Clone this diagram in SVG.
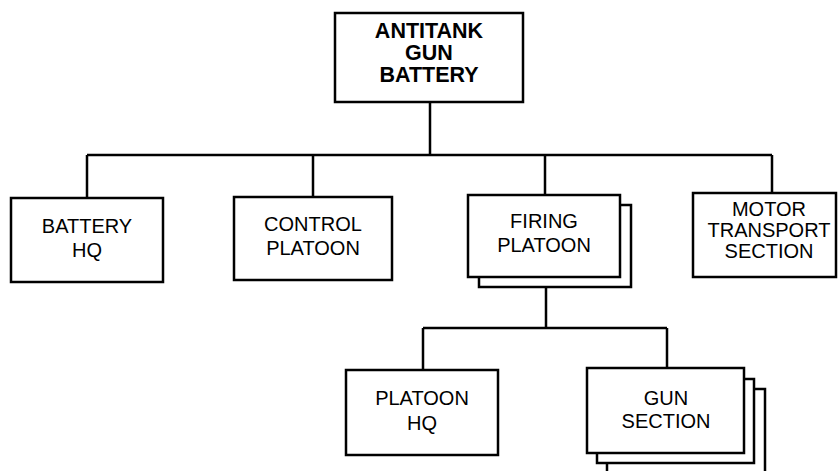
<svg xmlns="http://www.w3.org/2000/svg" width="838" height="471" viewBox="0 0 838 471">
<style>
.box{fill:#fff;stroke:#000;stroke-width:2.5}
.ln{fill:none;stroke:#000;stroke-width:2.5}
text{font-family:"Liberation Sans",Arial,sans-serif;font-size:20px;fill:#000;text-anchor:middle}
.b{font-weight:bold;font-size:21.5px}
</style>
<rect width="838" height="471" fill="#fff"/>
<g id="connectors">
<path class="ln" d="M430,102 V155 M87,155 H772 M87,155 V198 M313,155 V197 M545,155 V195 M772,155 V193"/>
<path class="ln" d="M546,287 V328 M423,328 H667 M423,328 V370 M667,328 V368"/>
</g>
<g id="antitank">
<rect class="box" x="335" y="13" width="188" height="89"/>
<text class="b" x="429" y="38">ANTITANK</text>
<text class="b" x="429" y="60">GUN</text>
<text class="b" x="429" y="82">BATTERY</text>
</g>
<g id="battery-hq">
<rect class="box" x="11" y="198" width="152" height="84"/>
<text x="87" y="233">BATTERY</text>
<text x="87" y="257">HQ</text>
</g>
<g id="control-platoon">
<rect class="box" x="234" y="197" width="158" height="83"/>
<text x="313" y="231">CONTROL</text>
<text x="313" y="255">PLATOON</text>
</g>
<g id="firing-platoon">
<rect class="box" x="479" y="205" width="152" height="82"/>
<rect class="box" x="468" y="195" width="152" height="82"/>
<text x="544" y="228">FIRING</text>
<text x="544" y="252">PLATOON</text>
</g>
<g id="motor-transport">
<rect class="box" x="693" y="193" width="143" height="84"/>
<text x="769" y="216">MOTOR</text>
<text x="769" y="237">TRANSPORT</text>
<text x="769" y="258">SECTION</text>
</g>
<g id="platoon-hq">
<rect class="box" x="346" y="370" width="152" height="85"/>
<text x="422" y="405">PLATOON</text>
<text x="422" y="430">HQ</text>
</g>
<g id="gun-section">
<rect class="box" x="607" y="389" width="158" height="90"/>
<rect class="box" x="597" y="379" width="157" height="84"/>
<rect class="box" x="587" y="368" width="157" height="85"/>
<text x="666" y="405">GUN</text>
<text x="666" y="428">SECTION</text>
</g>
</svg>
